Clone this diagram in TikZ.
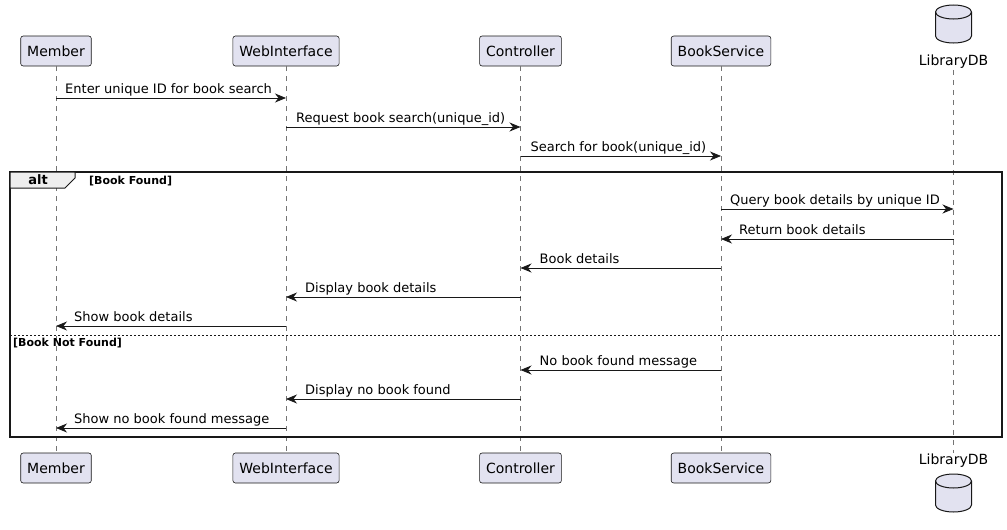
\documentclass[tikz,border=0pt]{standalone}
\usepackage{fontspec}
\setmainfont{DejaVu Sans}
\usetikzlibrary{positioning, arrows.meta, calc}
\definecolor{partfill}{HTML}{E2E2F0}
\definecolor{umlline}{HTML}{181818}
\definecolor{tabfill}{HTML}{EEEEEE}
\tikzset{
	part/.style={draw=umlline, fill=partfill, line width=0.6pt, rounded corners=2.5pt, minimum height=30pt, inner xsep=6.5pt, font=\fontsize{14}{16}\selectfont},
	dblab/.style={inner sep=1pt, font=\fontsize{14}{16}\selectfont},
	life/.style={umlline!60, line width=0.6pt, dash pattern=on 5pt off 5pt},
	msg/.style={umlline, line width=0.8pt, -{Stealth[length=11pt, width=9pt, inset=3.5pt]}},
	msglab/.style={anchor=base west, inner sep=1pt, font=\fontsize{13}{15}\selectfont},
	guard/.style={anchor=west, inner sep=0pt, font=\fontsize{11}{13}\selectfont\bfseries},
}

\begin{document}
\begin{tikzpicture}[x=1pt, y=-1pt]
	\useasboundingbox (0,0) rectangle (1007,530);
	% participants, top and bottom
	\foreach \n/\x/\lab in {mem/56/Member, web/286/WebInterface, ctl/520.5/Controller, svc/721/BookService}{
		\node[part] (\n) at (\x,51) {\lab};
		\node[part] (\n-b) at (\x,468) {\lab};
	}
	% database, top and bottom
	\node[dblab] (db) at (953.5,62) {LibraryDB};
	\node[dblab] (db-b) at (953.5,461) {LibraryDB};
	\foreach \yt/\yb in {12/36, 481/505}{
		\draw[draw=umlline, fill=partfill, line width=1pt] (935.5,\yt) -- (935.5,\yb)
			arc[start angle=180, end angle=360, x radius=18pt, y radius=7pt] -- (971.5,\yt)
			arc[start angle=0, end angle=180, x radius=18pt, y radius=7pt] -- cycle;
		\draw[umlline, line width=1pt] (935.5,\yt) arc[start angle=180, end angle=360, x radius=18pt, y radius=7pt];
	}
	% lifelines
	\foreach \n in {mem, web, ctl, svc, db}{
		\draw[life] (\n) -- (\n-b);
	}
	% alt frame
	\draw[umlline, line width=1.4pt] (10,172) rectangle (1002,437);
	\draw[umlline, fill=tabfill, line width=1pt] (10,172) -- (75,172) -- (75,178) -- (65,188) -- (10,188) -- cycle;
	\node[font=\fontsize{13}{15}\selectfont\bfseries, inner sep=0pt] (alt) at (38,180) {alt};
	\node[guard] (g1) at (89,181) {[Book Found]};
	\draw[umlline, line width=0.7pt, dash pattern=on 2pt off 2pt] (10,335) -- (1002,335);
	\node[guard] (g2) at (13,343) {[Book Not Found]};
	% messages
	\foreach \y/\a/\b/\l/\dx/\t [count=\i] in {
		98/mem/web/mem/8/{Enter unique ID for book search},
		127/web/ctl/web/9/{Request book search(unique\_id)},
		156/ctl/svc/ctl/9/{Search for book(unique\_id)},
		209/svc/db/svc/8/{Query book details by unique ID},
		239/db/svc/svc/17/{Return book details},
		268/svc/ctl/ctl/18/{Book details},
		297/ctl/web/web/18/{Display book details},
		326/web/mem/mem/17/{Show book details},
		370/svc/ctl/ctl/18/{No book found message},
		399/ctl/web/web/18/{Display no book found},
		428/web/mem/mem/17/{Show no book found message}}{
		\draw[msg] (\a |- 0,\y) -- (\b |- 0,\y);
		\node[msglab] (m\i) at ([xshift=\dx pt, yshift=5pt]\l |- 0,\y) {\t};
	}
\end{tikzpicture}
\end{document}
